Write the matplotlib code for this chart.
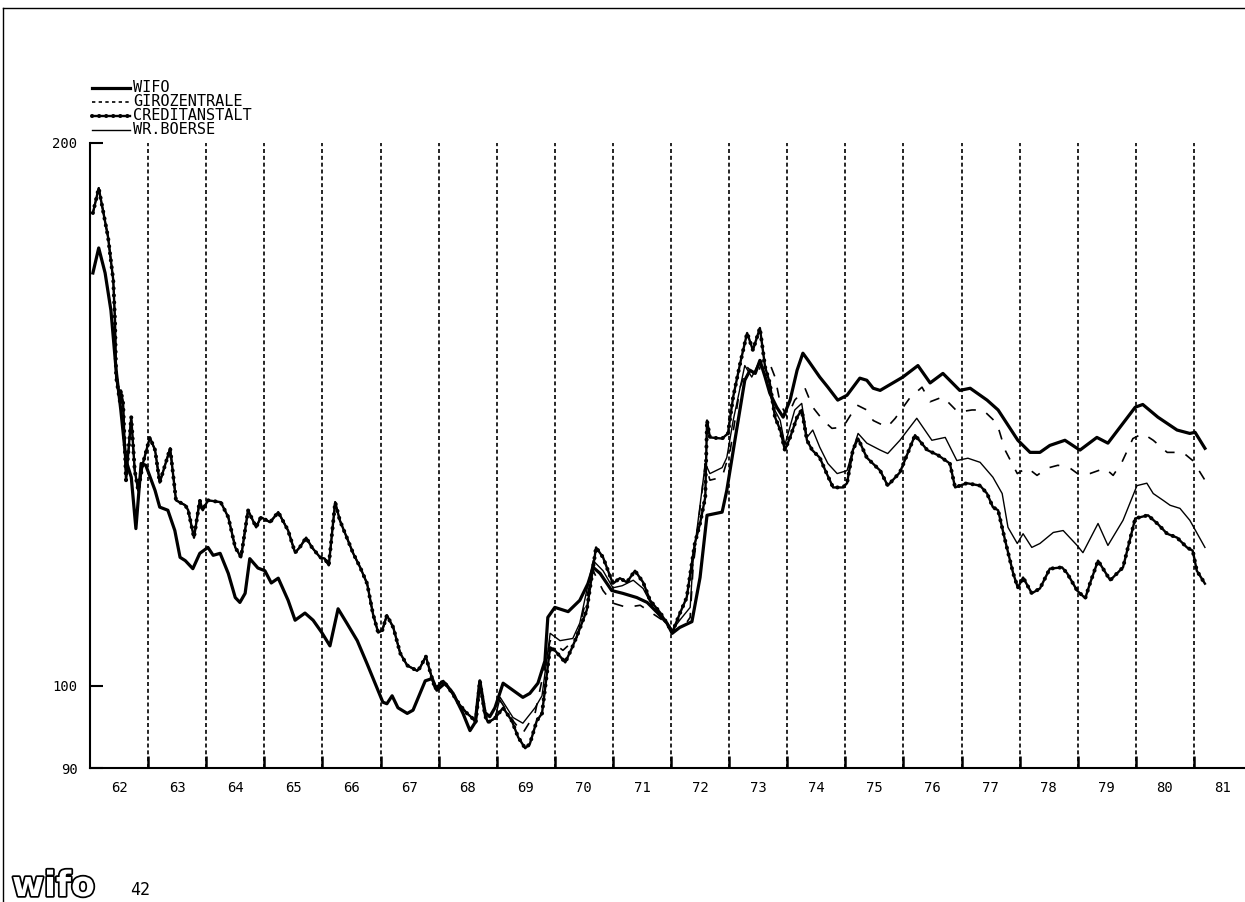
import numpy as np
import matplotlib
matplotlib.use("Agg")
import matplotlib.pyplot as plt
from matplotlib.lines import Line2D
import matplotlib.patheffects as pe

# ---------------- data (index values, log scale) ----------------
series_names = ["WIFO", "GIROZENTRALE", "CREDITANSTALT", "WR.BOERSE"]

wifo_years = [1962.05, 1962.15, 1962.26, 1962.36, 1962.45, 1962.53, 1962.62, 1962.71, 1962.79, 1962.88,
              1962.96, 1963.12, 1963.20, 1963.34, 1963.46, 1963.55, 1963.64, 1963.77, 1963.89, 1964.03,
              1964.12, 1964.24, 1964.38, 1964.50, 1964.58, 1964.67, 1964.75, 1964.89, 1965.01, 1965.12,
              1965.24, 1965.41, 1965.53, 1965.70, 1965.84, 1965.99, 1966.13, 1966.27, 1966.42, 1966.60,
              1966.77, 1966.94, 1967.04, 1967.11, 1967.20, 1967.30, 1967.46, 1967.56, 1967.68, 1967.77,
              1967.89, 1967.97, 1968.11, 1968.25, 1968.42, 1968.54, 1968.63, 1968.71, 1968.80, 1968.88,
              1968.97, 1969.11, 1969.28, 1969.45, 1969.57, 1969.71, 1969.83, 1969.88, 1970.00, 1970.23,
              1970.43, 1970.57, 1970.66, 1970.78, 1970.98, 1971.17, 1971.41, 1971.59, 1971.76, 1971.93,
              1972.02, 1972.15, 1972.36, 1972.50, 1972.59, 1972.62, 1972.88, 1972.96, 1973.10, 1973.27,
              1973.36, 1973.45, 1973.53, 1973.62, 1973.70, 1973.82, 1973.93, 1974.05, 1974.17, 1974.27,
              1974.36, 1974.44, 1974.56, 1974.70, 1974.87, 1975.03, 1975.25, 1975.37, 1975.48, 1975.60,
              1975.82, 1975.99, 1976.25, 1976.46, 1976.68, 1976.97, 1977.15, 1977.44, 1977.63, 1977.78,
              1977.97, 1978.18, 1978.35, 1978.52, 1978.78, 1978.99, 1979.04, 1979.33, 1979.52, 1979.78,
              1979.99, 1980.12, 1980.38, 1980.71, 1980.93, 1981.02, 1981.19]
wifo_values = [169.4, 174.9, 169.4, 161.5, 149.6, 142.2, 133.3, 130.5, 122.2, 132.8,
               132.5, 128.3, 125.6, 125.1, 121.9, 117.8, 117.3, 116.1, 118.4, 119.3,
               118.1, 118.4, 115.4, 111.9, 111.2, 112.5, 117.6, 116.2, 115.8, 114.0,
               114.7, 111.5, 108.7, 109.7, 108.7, 107.0, 105.2, 110.3, 108.3, 105.9,
               102.8, 99.7, 97.9, 97.7, 98.7, 97.2, 96.5, 96.9, 99.0, 100.6,
               100.9, 99.4, 100.3, 99.0, 96.5, 94.4, 95.4, 100.6, 96.6, 96.1,
               97.2, 100.3, 99.4, 98.5, 99.0, 100.3, 103.2, 109.1, 110.5, 109.9,
               111.5, 113.9, 116.3, 115.4, 112.9, 112.5, 111.9, 111.2, 109.8, 108.3,
               106.9, 107.7, 108.5, 114.8, 121.9, 124.3, 124.8, 128.3, 136.8, 147.7,
               149.6, 149.0, 151.5, 148.3, 145.3, 142.7, 140.9, 144.0, 149.6, 152.9,
               151.5, 150.2, 148.3, 146.4, 144.0, 144.9, 148.1, 147.7, 146.2, 145.8,
               147.2, 148.3, 150.5, 147.2, 149.0, 145.8, 146.2, 144.0, 142.2, 139.8,
               136.8, 134.7, 134.7, 135.9, 136.8, 135.4, 135.1, 137.3, 136.3, 139.8,
               142.7, 143.2, 140.9, 138.6, 138.0, 138.2, 135.4]

# 1962-1968: Girozentrale, Creditanstalt and Wr. Boerse run on top of each other
upper_years_62_68 = [1962.05, 1962.15, 1962.31, 1962.40, 1962.43, 1962.45, 1962.52, 1962.53, 1962.57, 1962.62,
                     1962.71, 1962.77, 1962.83, 1962.91, 1963.03, 1963.12, 1963.20, 1963.38, 1963.48, 1963.64,
                     1963.69, 1963.79, 1963.89, 1963.94, 1964.03, 1964.25, 1964.38, 1964.50, 1964.60, 1964.72,
                     1964.86, 1964.94, 1965.10, 1965.24, 1965.41, 1965.53, 1965.61, 1965.72, 1965.82, 1965.96,
                     1966.04, 1966.11, 1966.22, 1966.30, 1966.42, 1966.53, 1966.65, 1966.77, 1966.87, 1966.96,
                     1967.03, 1967.11, 1967.22, 1967.34, 1967.46, 1967.63, 1967.68, 1967.78, 1967.85, 1967.94,
                     1968.08, 1968.20, 1968.37, 1968.49, 1968.57, 1968.64, 1968.71, 1968.80, 1968.85, 1968.97]
upper_values_62_68 = [182.9, 188.8, 177.4, 167.9, 159.5, 148.3, 143.4, 145.8, 143.4, 130.0,
                      140.9, 131.6, 128.3, 132.8, 137.3, 135.1, 129.6, 135.4, 126.7, 125.9,
                      125.1, 120.8, 126.7, 125.1, 126.7, 126.4, 124.0, 119.3, 117.8, 125.1,
                      122.4, 124.0, 123.2, 124.8, 121.9, 118.5, 119.3, 120.8, 119.3, 117.8,
                      117.6, 116.6, 126.4, 123.5, 120.8, 118.4, 116.3, 113.9, 109.6, 107.0,
                      107.3, 109.4, 107.7, 104.2, 102.6, 101.9, 102.3, 103.8, 101.9, 99.6,
                      100.6, 99.4, 97.5, 96.5, 96.0, 95.4, 100.6, 96.2, 95.4, 95.9]

credit_years_69_81 = [1969.11, 1969.26, 1969.37, 1969.49, 1969.57, 1969.69, 1969.78, 1969.92, 1970.00, 1970.18,
                      1970.30, 1970.40, 1970.55, 1970.71, 1970.83, 1971.00, 1971.12, 1971.24, 1971.38, 1971.52,
                      1971.64, 1971.81, 1971.93, 1972.02, 1972.15, 1972.27, 1972.41, 1972.50, 1972.59, 1972.62,
                      1972.67, 1972.88, 1972.98, 1973.07, 1973.19, 1973.31, 1973.41, 1973.53, 1973.62, 1973.70,
                      1973.79, 1973.88, 1973.96, 1974.05, 1974.17, 1974.25, 1974.34, 1974.43, 1974.56, 1974.68,
                      1974.79, 1974.96, 1975.03, 1975.13, 1975.22, 1975.37, 1975.60, 1975.73, 1975.94, 1976.20,
                      1976.41, 1976.60, 1976.80, 1976.89, 1977.09, 1977.32, 1977.44, 1977.54, 1977.63, 1977.75,
                      1977.89, 1977.97, 1978.06, 1978.21, 1978.35, 1978.52, 1978.73, 1978.82, 1978.99, 1979.13,
                      1979.21, 1979.35, 1979.56, 1979.78, 1979.99, 1980.21, 1980.37, 1980.54, 1980.71, 1980.88,
                      1980.98, 1981.05, 1981.19]
credit_values_69_81 = [97.2, 95.6, 93.6, 92.3, 92.8, 95.6, 96.5, 105.0, 104.6, 103.0,
                       105.0, 106.9, 110.1, 119.3, 117.8, 113.9, 114.7, 114.1, 115.8, 114.1,
                       111.5, 109.8, 108.3, 107.0, 109.6, 111.9, 119.9, 123.0, 127.2, 140.3,
                       137.3, 137.1, 138.0, 144.6, 150.9, 156.9, 153.5, 157.9, 150.2, 147.2,
                       140.9, 138.6, 135.1, 137.3, 140.9, 142.2, 136.8, 135.1, 133.8, 131.1,
                       128.8, 128.8, 129.5, 135.1, 137.1, 133.8, 131.6, 129.1, 131.3, 137.7,
                       135.1, 134.2, 132.8, 128.8, 129.5, 129.1, 127.8, 125.6, 125.1, 120.4,
                       115.4, 113.3, 114.8, 112.5, 113.2, 116.1, 116.3, 115.4, 112.9, 111.8,
                       113.9, 117.3, 114.4, 116.3, 123.8, 124.3, 123.0, 121.4, 120.8, 119.3,
                       118.8, 115.8, 113.9]

giro_years_69_81 = [1969.06, 1969.28, 1969.45, 1969.66, 1969.92, 1970.14, 1970.38, 1970.66, 1970.83, 1971.00,
                    1971.24, 1971.47, 1971.69, 1971.93, 1972.02, 1972.21, 1972.33, 1972.38, 1972.59, 1972.67,
                    1972.88, 1973.02, 1973.19, 1973.31, 1973.48, 1973.57, 1973.70, 1973.79, 1973.88, 1974.00,
                    1974.13, 1974.31, 1974.44, 1974.62, 1974.77, 1974.96, 1975.20, 1975.37, 1975.48, 1975.72,
                    1975.86, 1976.11, 1976.32, 1976.46, 1976.68, 1976.94, 1977.18, 1977.37, 1977.61, 1977.75,
                    1977.96, 1978.13, 1978.30, 1978.47, 1978.66, 1978.87, 1979.04, 1979.21, 1979.47, 1979.61,
                    1979.76, 1979.95, 1980.12, 1980.30, 1980.54, 1980.81, 1980.98, 1981.19]
giro_values_69_81 = [98.1, 95.6, 94.1, 96.5, 105.9, 104.6, 106.3, 115.8, 112.9, 111.1,
                     110.5, 110.8, 109.6, 108.3, 107.3, 107.7, 109.1, 116.3, 132.8, 130.0,
                     130.5, 135.1, 146.4, 150.2, 148.3, 151.5, 150.9, 148.3, 143.4, 140.9,
                     144.0, 146.1, 142.7, 140.3, 138.9, 139.1, 143.1, 142.2, 140.3, 139.1,
                     140.7, 144.4, 146.4, 143.7, 144.6, 141.8, 142.2, 142.2, 139.8, 135.1,
                     131.1, 132.1, 130.8, 132.0, 132.5, 132.0, 130.8, 131.1, 132.0, 130.8,
                     133.0, 137.1, 138.0, 136.8, 134.7, 134.7, 133.3, 130.0]

boerse_years_69_81 = [1969.06, 1969.28, 1969.45, 1969.66, 1969.78, 1969.92, 1970.09, 1970.31, 1970.43, 1970.66,
                      1970.83, 1971.00, 1971.16, 1971.35, 1971.52, 1971.69, 1971.93, 1972.02, 1972.15, 1972.33,
                      1972.38, 1972.59, 1972.67, 1972.88, 1972.96, 1973.07, 1973.27, 1973.39, 1973.53, 1973.65,
                      1973.76, 1973.88, 1973.96, 1974.13, 1974.25, 1974.34, 1974.44, 1974.56, 1974.70, 1974.86,
                      1975.03, 1975.13, 1975.22, 1975.37, 1975.60, 1975.73, 1975.94, 1976.23, 1976.49, 1976.72,
                      1976.92, 1977.11, 1977.32, 1977.54, 1977.70, 1977.80, 1977.96, 1978.06, 1978.21, 1978.35,
                      1978.58, 1978.75, 1978.99, 1979.09, 1979.35, 1979.52, 1979.78, 1980.02, 1980.19, 1980.30,
                      1980.47, 1980.59, 1980.76, 1980.93, 1981.19]
boerse_values_69_81 = [98.5, 96.0, 95.3, 97.2, 98.7, 106.9, 105.9, 106.2, 108.3, 117.3,
                       115.8, 113.3, 113.6, 114.4, 113.2, 110.5, 108.4, 107.3, 108.7, 110.5,
                       117.3, 132.8, 131.1, 132.1, 133.8, 140.3, 150.5, 148.3, 151.5, 147.7,
                       142.7, 140.3, 136.0, 142.2, 143.4, 137.3, 138.6, 135.6, 132.8, 131.1,
                       131.6, 135.1, 138.0, 136.3, 135.1, 134.5, 136.8, 140.7, 136.8, 137.3,
                       133.3, 133.7, 133.0, 130.5, 127.8, 122.4, 119.9, 121.4, 119.3, 119.9,
                       121.6, 121.9, 119.6, 118.5, 123.0, 119.6, 123.5, 129.1, 129.5, 127.8,
                       126.7, 125.9, 125.4, 123.5, 119.3]

year_labels = ["62", "63", "64", "65", "66", "67", "68", "69", "70", "71",
               "72", "73", "74", "75", "76", "77", "78", "79", "80", "81"]
first_year = 1962
y_ticks = [90, 100, 200]
page_number = "42"

# ---------------- assemble series ----------------
credit_x = upper_years_62_68 + credit_years_69_81
credit_y = upper_values_62_68 + credit_values_69_81
giro_x = upper_years_62_68 + giro_years_69_81
giro_y = upper_values_62_68 + giro_values_69_81
boerse_x = upper_years_62_68 + boerse_years_69_81
boerse_y = upper_values_62_68 + boerse_values_69_81

# ---------------- figure ----------------
W, H = 1245, 902
fig = plt.figure(figsize=(W / 100, H / 100), dpi=100)
fig.patch.set_facecolor("white")

def fx(px):
    return px / W

def fy(py):
    return 1 - py / H

ax = fig.add_axes([fx(90), fy(768), fx(1245) - fx(90), fy(143) - fy(768)])
ax.set_yscale("log")
ax.set_ylim(90, 200)
ax.set_xlim(first_year, first_year + (1245 - 90) / 58.1)

mono = "DejaVu Sans Mono"

# year separators
for i in range(1, len(year_labels)):
    ax.axvline(first_year + i, color="black", lw=1.2, dashes=(2.4, 1.7), zorder=1)

# series
style_wifo = dict(color="black", lw=2.3, solid_joinstyle="round")
style_giro = dict(color="black", lw=1.2, dashes=(6.0, 7.0))
style_credit = dict(color="black", lw=1.7)
style_credit_dots = dict(color="black", lw=2.9, dashes=(0.05, 1.7), dash_capstyle="round")
style_boerse = dict(color="black", lw=1.0)

ax.plot(boerse_x, boerse_y, zorder=3, **style_boerse)
ax.plot(giro_x, giro_y, zorder=3, **style_giro)
ax.plot(credit_x, credit_y, zorder=4, **style_credit)
ax.plot(credit_x, credit_y, zorder=4, **style_credit_dots)
ax.plot(wifo_years, wifo_values, zorder=5, **style_wifo)

# axes styling
for side in ["top", "right"]:
    ax.spines[side].set_visible(False)
for side in ["left", "bottom"]:
    ax.spines[side].set_linewidth(1.5)

ax.yaxis.set_major_locator(matplotlib.ticker.FixedLocator(y_ticks))
ax.yaxis.set_minor_locator(matplotlib.ticker.NullLocator())
ax.set_yticklabels([str(t) for t in y_ticks], fontsize=10, family=mono)
ax.tick_params(axis="y", direction="in", length=9, width=1.5, pad=9)

ax.set_xticks([first_year + i + 0.5 for i in range(len(year_labels))])
ax.set_xticklabels(year_labels, fontsize=10, family=mono)
ax.set_xticks([first_year + i for i in range(1, len(year_labels))], minor=True)
ax.tick_params(axis="x", which="major", length=0, pad=9)
ax.tick_params(axis="x", which="minor", direction="in", length=9, width=1.8)

# legend (drawn like the plotter legend, above the axes)
legend_rows = [88, 102, 116, 130]
handle_styles = [[style_wifo], [style_giro], [style_credit, style_credit_dots], [style_boerse]]
for name, row, styles in zip(series_names, legend_rows, handle_styles):
    for st in styles:
        st2 = dict(st)
        if "dashes" in st2 and st2.get("lw", 1) < 2:
            st2["dashes"] = (2.0, 2.0)
        fig.add_artist(Line2D([fx(92), fx(130)], [fy(row), fy(row)], transform=fig.transFigure, **st2))
    fig.text(fx(133), fy(row - 1), name, fontsize=11, family=mono, va="center", ha="left")

# page frame lines from the scan
fig.add_artist(Line2D([fx(3), fx(1245)], [fy(8), fy(8)], transform=fig.transFigure, color="black", lw=1.0))
fig.add_artist(Line2D([fx(3), fx(3)], [fy(8), fy(902)], transform=fig.transFigure, color="black", lw=1.0))

# logo and page number
fig.text(fx(12), fy(896), "wifo", fontsize=25, fontweight="bold", family="DejaVu Sans",
         color="white", va="baseline", ha="left",
         path_effects=[pe.withStroke(linewidth=2.5, foreground="black")])
fig.text(fx(130), fy(890), page_number, fontsize=12, family=mono, va="center", ha="left")

fig.savefig("out.png", dpi=100, facecolor="white")
